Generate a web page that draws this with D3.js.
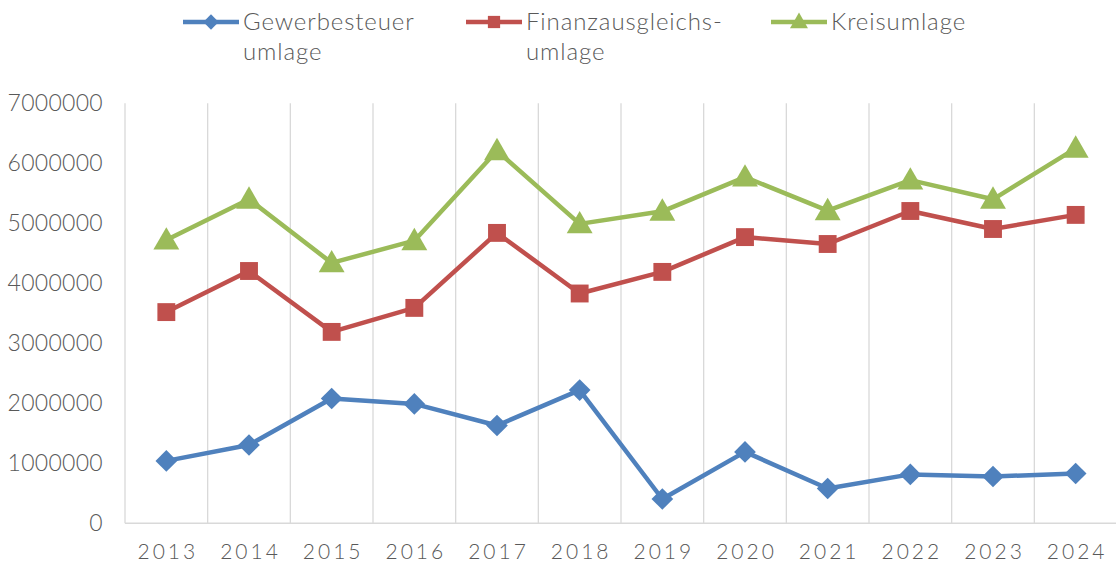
<!DOCTYPE html>
<html><head><meta charset="utf-8">
<script src="https://cdn.jsdelivr.net/npm/d3@7"></script>
<style>body{margin:0;background:#fff;} svg{display:block;} text{font-family:Lato, sans-serif;fill:#595959;font-weight:300;}</style>
</head><body><svg id="c" width="1116" height="568"></svg>
<script>
const years = ["2013","2014","2015","2016","2017","2018","2019","2020","2021","2022","2023","2024"];
const gewerbe = [1040000,1305000,2080000,1990000,1630000,2220000,405000,1190000,580000,815000,780000,830000];
const finanz = [3520000,4205000,3190000,3590000,4840000,3830000,4190000,4770000,4655000,5205000,4905000,5140000];
const kreis = [4720000,5400000,4340000,4710000,6210000,4990000,5200000,5770000,5210000,5720000,5400000,6250000];
const yTicks = [0,1000000,2000000,3000000,4000000,5000000,6000000,7000000];
const seriesNames = [["Gewerbesteuer","umlage"],["Finanzausgleichs-","umlage"],["Kreisumlage"]];
const colors = ["#4F81BD","#C0504D","#9BBB59"];
const shapes = [d3.symbolDiamond2, d3.symbolSquare, d3.symbolTriangle];

const svg = d3.select("#c");
const L=125, R=1117, T=103.3, B=523.3;
const x = d3.scaleBand().domain(years).range([L,R]);
const y = d3.scaleLinear().domain([0,7000000]).range([B,T]);

const bounds = years.map(d=>x(d)).concat([R]);
svg.append("g").selectAll("line").data(bounds).join("line")
  .attr("x1",d=>d).attr("x2",d=>d).attr("y1",T).attr("y2",B)
  .attr("stroke","#d9d9d9").attr("stroke-width",1.3);
svg.append("line").attr("x1",L).attr("x2",R).attr("y1",B).attr("y2",B).attr("stroke","#d9d9d9").attr("stroke-width",1.5);

svg.append("g").selectAll("text").data(yTicks).join("text")
  .attr("x",103).attr("y",d=>y(d)).attr("dy","0.35em").attr("text-anchor","end")
  .attr("font-size",23).attr("letter-spacing","0.3px").text(d=>d);
svg.append("g").selectAll("text").data(years).join("text")
  .attr("x",d=>x(d)+x.bandwidth()/2+1.5).attr("y",552).attr("dy","0.35em").attr("text-anchor","middle")
  .attr("font-size",21).attr("letter-spacing","3px").text(d=>d);

const all = [gewerbe, finanz, kreis];
const line = d3.line().x((d,i)=>x(years[i])+x.bandwidth()/2).y(d=>y(d));
all.forEach((vals,k)=>{
  svg.append("path").datum(vals).attr("d",line).attr("fill","none")
    .attr("stroke",colors[k]).attr("stroke-width",4.5).attr("stroke-linejoin","round");
  const sz = k===0?300:(k===1?320:290);
  svg.append("g").selectAll("path").data(vals).join("path")
    .attr("transform",(d,i)=>`translate(${x(years[i])+x.bandwidth()/2},${y(d)+(k===2?2:0)})`)
    .attr("d",d3.symbol().type(shapes[k]).size(sz)).attr("fill",colors[k]);
});

const legX = [183, 466, 771];
seriesNames.forEach((nm,k)=>{
  const g = svg.append("g").attr("transform",`translate(${legX[k]},22)`);
  g.append("line").attr("x1",0).attr("x2",56).attr("y1",0).attr("y2",0).attr("stroke",colors[k]).attr("stroke-width",4.5);
  g.append("path").attr("transform",`translate(28,${k===2?1:0})`).attr("d",d3.symbol().type(shapes[k]).size(k===0?150:(k===1?150:140))).attr("fill",colors[k]);
  nm.forEach((t,j)=>g.append("text").attr("x",60).attr("y",j*30).attr("dy","0.35em").attr("font-size",24).attr("letter-spacing","0.9px").text(t));
});
</script></body></html>
